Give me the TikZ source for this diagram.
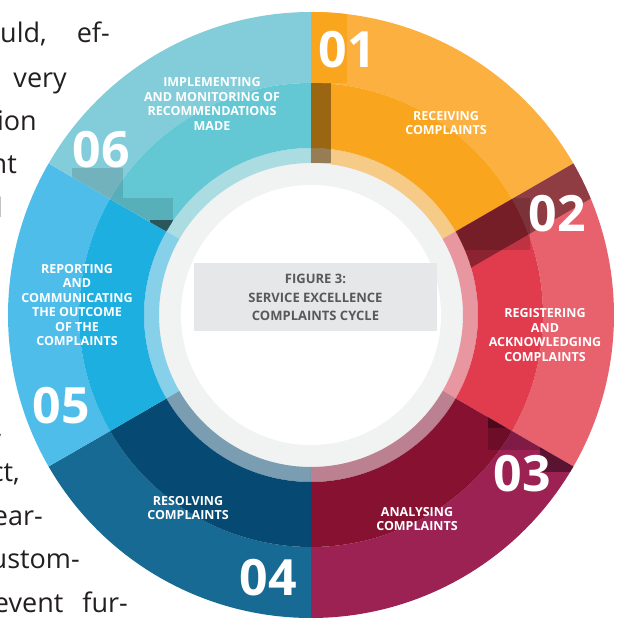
\documentclass[tikz,border=0pt]{standalone}
\usepackage{fontspec}
\setmainfont{Open Sans}

\definecolor{orgOut}{HTML}{FBB040}  \definecolor{orgIn}{HTML}{F9A51D}
\definecolor{redOut}{HTML}{E8626D}  \definecolor{redIn}{HTML}{E13B4E}
\definecolor{wineOut}{HTML}{9C2254} \definecolor{wineIn}{HTML}{861131}
\definecolor{navyOut}{HTML}{176A93} \definecolor{navyIn}{HTML}{064A73}
\definecolor{skyOut}{HTML}{4EBDE9}  \definecolor{skyIn}{HTML}{1EAFE1}
\definecolor{tealOut}{HTML}{82CDD9} \definecolor{tealIn}{HTML}{64C8D4}
\definecolor{ringGrey}{HTML}{F1F2F2}
\definecolor{boxGrey}{HTML}{E6E7E8}
\definecolor{titleGrey}{HTML}{58595B}
\definecolor{paraInk}{HTML}{231F20}

% one 60 degree slice of the ring, clockwise from #1, inner radius #2
\newcommand{\segpath}[2]{(#1:303) arc[start angle=#1,delta angle=-60,radius=303]
  -- ({#1-60}:#2) arc[start angle={#1-60},delta angle=60,radius=#2] -- cycle}

\begin{document}
\begin{tikzpicture}[x=1pt,y=1pt,
  lab/.style={text=white,align=center,inner sep=0pt,font=\bfseries\fontsize{12.5}{14.5}\selectfont},
  num/.style={text=white,inner sep=0pt,font=\bfseries\fontsize{50}{50}\selectfont},
  para/.style={anchor=base east,inner sep=0pt,text=paraInk,font=\fontsize{27}{32}\selectfont}]
  \useasboundingbox (-311,-303) rectangle (310,315);

  % body text running round the figure
  \foreach \x/\y/\txt [count=\i] in {-201/272/{uld,\hspace{30pt}ef-},-244/227/very,-274/184.5/ion,
      -294/141/nt,-308/97/l,-308/-122/{,},-291/-166.5/{ct,},-268/-210/ear-,-231/-253.5/ustom-,
      -183/-297/{event\hspace{19pt}fur-}}
    \node[para] (line\i) at (\x,\y) {\txt};

  % ring: outer band, inner band, see-through rim
  \fill[ringGrey] (0,0) circle[radius=167];
  \foreach \a/\sg in {90/org,30/red,-30/wine,-90/navy,-150/sky,150/teal} {
    \fill[fill=\sg Out] (\a:303) arc[start angle=\a,delta angle=-60,radius=303]
      -- ({\a-60}:232) arc[start angle={\a-60},delta angle=60,radius=232] -- cycle;
    \fill[fill=\sg In] (\a:232) arc[start angle=\a,delta angle=-60,radius=232]
      -- ({\a-60}:167) arc[start angle={\a-60},delta angle=60,radius=167] -- cycle;
    \fill[fill=\sg In,opacity=.5] (\a:167) arc[start angle=\a,delta angle=-60,radius=167]
      -- ({\a-60}:152) arc[start angle={\a-60},delta angle=60,radius=152] -- cycle;
  }
  \fill[white] (0,0) circle[radius=130];

  % dark overlaps behind the numbers
  \begin{scope}
    \clip \segpath{90}{152};
    \fill[orgIn] (0,303) rectangle (36,232);
    \fill[black,opacity=.38] (0,232) rectangle (20,152);
  \end{scope}
  \begin{scope}
    \clip \segpath{30}{167};
    \fill[black,opacity=.38,rotate=30] (150,-39) rectangle (310,0);
    \fill[black,opacity=.15] (147,117) rectangle (219,65);
  \end{scope}
  \begin{scope}
    \clip \segpath{-30}{167};
    \fill[black,opacity=.18] (177,-85) rectangle (269,-135);
    \fill[black,opacity=.42] (229,-125) rectangle (269,-157);
    \fill[black,opacity=.3] (177,-95) rectangle (199,-113);
  \end{scope}
  \begin{scope}
    \clip \segpath{150}{167};
    \fill[black,opacity=.13] (-239,147) rectangle (-188,117);
    \fill[black,opacity=.12] (-201,117) rectangle (-138,85);
    \fill[black,opacity=.5] (-161,95) rectangle (-138,83);
  \end{scope}

  % step names and numbers
  \foreach \x/\y/\txt [count=\i] in {135/192/{RECEIVING\\COMPLAINTS},
      234/-20/{REGISTERING\\AND\\ACKNOWLEDGING\\COMPLAINTS},
      106/-204/{ANALYSING\\COMPLAINTS},
      -123/-193/{RESOLVING\\COMPLAINTS},
      -234/10/{REPORTING\\AND\\COMMUNICATING\\THE OUTCOME\\OF THE\\COMPLAINTS},
      -99/211/{IMPLEMENTING\\AND MONITORING OF\\RECOMMENDATIONS\\MADE}}
    \node[lab] (step\i) at (\x,\y) {\txt};
  \foreach \x/\y/\n in {36.5/265/01,246.5/101/02,211.5/-159/03,-43/-263/04,-250/-91/05,-210/165/06}
    \node[num] (no\n) at (\x,\y) {\n};

  \node[fill=boxGrey,text=titleGrey,align=center,minimum width=243pt,minimum height=68pt,
    font=\bfseries\fontsize{13}{18.5}\selectfont] (title) at (4.5,17.5)
    {FIGURE 3:\\SERVICE EXCELLENCE\\COMPLAINTS CYCLE};
\end{tikzpicture}
\end{document}
